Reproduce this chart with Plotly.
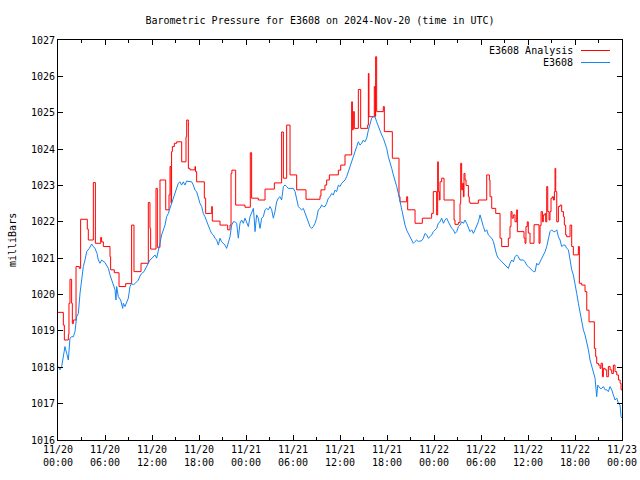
import pandas as pd
import plotly.graph_objects as go

START = pd.Timestamp("2024-11-20 00:00")

# Observed station pressure (E3608): hours after 11/20 00:00 UTC, millibars
BLUE_HOURS = [0.04, 0.26, 0.47, 0.68, 0.89, 1.11, 1.32, 1.53, 1.74, 1.96, 2.17, 2.38, 2.60, 2.81, 3.02, 3.23, 3.45, 3.66, 4.00, 4.30, 4.51, 4.72, 4.98, 5.15, 5.36, 5.57, 6.00, 6.21, 6.43, 6.64, 6.85, 7.00, 7.28, 7.40, 7.49, 7.70, 8.00, 8.26, 8.34, 8.55, 8.77, 8.98, 9.19, 9.40, 9.62, 10.00, 10.26, 10.47, 10.68, 10.98, 11.32, 11.53, 11.74, 12.00, 12.38,
              12.59, 12.81, 13.02, 13.23, 13.44, 13.66, 13.87, 14.08, 14.29, 14.51, 14.72, 14.93, 15.15, 15.36, 15.57, 15.78, 15.99, 16.21, 16.42, 16.85, 17.06, 17.27, 17.49, 17.70, 17.91, 18.12, 18.34, 18.55, 18.76, 18.98, 19.19, 19.40, 19.61, 19.83, 20.04, 20.25, 20.47, 20.68, 20.89, 21.10, 21.32, 21.53, 21.74, 21.96, 22.17, 22.38, 22.59, 22.81, 23.02, 23.23, 23.44, 23.66, 23.87, 24.08, 24.30, 24.51,
              24.72, 24.94, 25.06, 25.15, 25.36, 25.57, 25.79, 26.00, 26.21, 26.43, 26.64, 26.85, 27.06, 27.28, 27.49, 27.70, 27.91, 28.13, 28.34, 28.55, 28.77, 28.98, 29.19, 29.40, 29.62, 30.04, 30.26, 30.47, 30.68, 30.89, 31.11, 31.32, 31.53, 31.74, 31.96, 32.17, 32.38, 32.60, 32.81, 33.02, 33.23, 33.45, 33.66, 33.87, 34.09, 34.30, 34.51, 34.72, 34.94, 35.15, 35.36, 35.57, 35.79, 36.00, 36.21, 36.43, 36.64, 36.85, 37.06,
              37.28, 37.49, 37.70, 37.92, 38.13, 38.34, 38.55, 38.77, 38.98, 39.19, 39.41, 39.62, 39.83, 40.04, 40.26, 40.47, 40.68, 40.90, 41.11, 41.32, 41.53, 41.75, 41.96, 42.17, 42.39, 42.60, 42.81, 43.02, 43.24, 43.45, 43.66, 43.87, 44.09, 44.30, 44.51, 44.72, 44.94, 45.15, 45.36, 45.58, 45.79, 46.00, 46.21, 46.43, 46.64, 46.85, 47.07, 47.28, 47.49, 47.70, 47.92, 48.13, 48.34, 48.55, 48.77,
              48.98, 49.20, 49.41, 49.62, 49.83, 50.05, 50.26, 50.47, 50.68, 50.90, 51.11, 51.32, 51.54, 51.75, 51.96, 52.17, 52.39, 52.60, 52.81, 53.03, 53.24, 53.45, 53.66, 53.88, 54.09, 54.30, 54.51, 54.73, 54.94, 55.15, 55.37, 55.58, 55.79, 56.00, 56.22, 56.43, 56.64, 56.86, 57.07, 57.28, 57.49, 57.71, 57.92, 58.13, 58.34, 58.56, 58.77, 58.98, 59.20, 59.41, 59.62, 59.83, 60.05, 60.26, 60.47, 60.69,
              60.90, 61.11, 61.33, 61.54, 61.75, 61.96, 62.18, 62.39, 62.60, 62.81, 63.03, 63.24, 63.45, 63.67, 63.88, 64.09, 64.30, 64.52, 64.73, 64.94, 65.16, 65.37, 65.58, 65.79, 66.01, 66.22, 66.43, 66.64, 66.86, 67.07, 67.28, 67.50, 67.71, 67.92, 68.13, 68.35, 68.56, 68.77, 68.90, 69.20, 69.41, 69.62, 69.84, 70.05, 70.26, 70.47, 70.69, 70.90, 71.11, 71.33, 71.54, 71.75, 71.88, 72.00]
BLUE_MB = [1018.02, 1017.93, 1018.02, 1018.29, 1018.57, 1018.38, 1018.20, 1018.80, 1018.84, 1018.84, 1018.98, 1019.39, 1019.48, 1020.03, 1020.40, 1020.77, 1020.95, 1021.18, 1021.27, 1021.39, 1021.32, 1021.27, 1021.13, 1020.95, 1020.86, 1020.95, 1020.88, 1020.81, 1020.72, 1020.54, 1020.40, 1020.26, 1020.13, 1019.85, 1020.22, 1019.94, 1019.85, 1019.62, 1019.76, 1019.67, 1019.80, 1019.90, 1020.22, 1020.31, 1020.26, 1020.35, 1020.40, 1020.51, 1020.58, 1020.63, 1020.77, 1020.86, 1020.95, 1021.00, 1021.09,
           1021.00, 1021.18, 1021.41, 1021.64, 1021.78, 1021.91, 1022.14, 1022.23, 1022.37, 1022.51, 1022.65, 1022.83, 1022.97, 1023.06, 1023.10, 1023.01, 1023.10, 1023.01, 1023.12, 1023.12, 1023.10, 1023.01, 1022.87, 1022.83, 1022.65, 1022.51, 1022.42, 1022.23, 1022.14, 1022.00, 1021.91, 1021.78, 1021.68, 1021.64, 1021.55, 1021.50, 1021.36, 1021.55, 1021.45, 1021.41, 1021.36, 1021.27, 1021.41, 1021.59, 1021.91, 1022.00, 1022.00, 1021.96, 1021.55, 1021.96, 1022.05, 1021.96, 1022.10, 1022.00, 1021.87, 1022.14,
           1022.28, 1022.37, 1022.05, 1021.73, 1022.19, 1022.10, 1021.82, 1022.10, 1022.14, 1022.33, 1022.37, 1022.33, 1022.42, 1022.33, 1022.10, 1022.28, 1022.55, 1022.65, 1022.69, 1022.60, 1022.97, 1023.01, 1022.97, 1022.92, 1022.92, 1022.92, 1022.83, 1022.65, 1022.42, 1022.37, 1022.33, 1022.37, 1022.23, 1022.14, 1022.00, 1021.87, 1021.82, 1021.87, 1021.96, 1022.10, 1022.33, 1022.37, 1022.46, 1022.42, 1022.42, 1022.51, 1022.65, 1022.69, 1022.78, 1022.74, 1022.87, 1022.83, 1023.01, 1022.97, 1023.06, 1023.10, 1023.15, 1023.24, 1023.38,
           1023.50, 1023.70, 1023.84, 1023.97, 1024.07, 1024.20, 1024.11, 1024.16, 1024.25, 1024.20, 1024.30, 1024.52, 1024.66, 1024.85, 1024.89, 1024.89, 1024.75, 1024.62, 1024.48, 1024.39, 1024.30, 1024.16, 1024.02, 1023.79, 1023.65, 1023.47, 1023.29, 1023.15, 1022.97, 1022.78, 1022.55, 1022.33, 1022.14, 1021.91, 1021.77, 1021.68, 1021.55, 1021.46, 1021.41, 1021.46, 1021.50, 1021.46, 1021.46, 1021.48, 1021.55, 1021.68, 1021.64, 1021.55, 1021.59, 1021.64, 1021.73, 1021.77, 1021.82, 1021.96, 1022.00,
           1022.10, 1021.96, 1022.05, 1022.10, 1022.00, 1021.91, 1021.82, 1021.78, 1021.68, 1021.73, 1021.87, 1021.91, 1022.00, 1021.96, 1022.05, 1021.96, 1021.82, 1021.73, 1021.78, 1021.68, 1021.78, 1021.87, 1022.00, 1022.19, 1022.00, 1021.87, 1021.73, 1021.78, 1021.64, 1021.59, 1021.55, 1021.46, 1021.23, 1021.09, 1021.00, 1020.95, 1020.90, 1020.86, 1020.81, 1020.77, 1020.72, 1020.86, 1020.95, 1020.90, 1021.04, 1021.09, 1021.04, 1020.95, 1020.95, 1020.95, 1020.90, 1020.81, 1020.77, 1020.72, 1020.68, 1020.63,
           1020.63, 1020.86, 1020.81, 1020.90, 1020.95, 1021.04, 1021.18, 1021.32, 1021.55, 1021.73, 1021.78, 1021.73, 1021.73, 1021.78, 1021.59, 1021.50, 1021.32, 1021.36, 1021.36, 1021.27, 1021.23, 1020.95, 1020.68, 1020.54, 1020.22, 1020.03, 1019.76, 1019.48, 1019.21, 1019.03, 1018.89, 1018.71, 1018.48, 1018.20, 1018.02, 1017.83, 1017.70, 1017.19, 1017.51, 1017.42, 1017.42, 1017.47, 1017.38, 1017.38, 1017.33, 1017.47, 1017.38, 1017.24, 1017.10, 1017.15, 1017.01, 1016.96, 1016.64, 1016.60]

# Analysis pressure (E3608 Analysis): step start hours and values
RED_HOURS = [0.00, 0.68, 0.81, 1.32, 1.40, 1.53, 1.74, 1.83, 1.96, 2.30, 2.72, 2.89, 3.74, 3.87, 4.51, 4.77, 5.45, 5.57, 5.79, 6.64, 6.72, 7.19, 7.79, 8.64, 9.40, 9.70, 10.60, 11.53, 11.74, 11.83, 12.51, 12.68,
             13.02, 13.75, 14.17, 14.30, 14.43, 14.50, 14.60, 14.85, 15.15, 15.79, 16.34, 16.43, 16.64, 16.85, 17.49, 17.55, 17.70, 18.68, 18.85, 19.62, 19.70, 20.68, 21.66, 21.96, 22.09, 22.20, 22.68, 23.87, 24.55, 24.72,
             25.57, 26.43, 27.62, 28.55, 28.77, 29.19, 29.62, 30.47, 31.66, 33.45, 33.57, 34.08, 34.30, 34.64, 35.79, 36.09, 36.64,
             37.49, 37.58, 37.70, 37.83, 38.34, 38.64, 39.53, 39.62, 39.70, 40.38, 40.50, 40.55, 40.68, 41.53, 41.66, 42.68, 43.53, 43.66, 44.51, 44.64, 45.58, 46.51, 47.70, 47.91, 48.34, 48.47, 48.55, 48.68, 48.77, 48.98,
             49.28, 50.56, 50.68, 51.11, 51.32, 51.41, 51.53, 51.66, 51.75, 51.83, 51.96, 52.09, 52.39, 52.50, 52.60, 53.66, 54.73, 55.07, 55.15, 55.37, 55.88, 56.43, 56.64, 57.49, 57.70, 57.83, 57.96, 58.13, 58.34, 58.56, 58.64, 59.49, 59.62, 59.74, 59.91, 60.04, 60.26, 60.77, 61.41,
             61.54, 61.67, 61.84, 61.96, 62.18, 62.26, 62.39, 62.52, 62.69, 62.81, 62.94, 63.11, 63.24, 63.37, 63.45, 63.54, 63.67, 63.88, 64.09, 64.30, 64.52, 64.64, 64.81, 64.94, 65.37, 65.58, 65.79, 66.43, 66.56, 66.86, 67.28, 67.50, 67.79, 68.47, 68.64, 68.77, 68.99, 69.20, 69.33, 69.50, 69.62, 69.84, 70.05, 70.26, 70.48, 70.69, 70.90, 71.11, 71.33, 71.54, 71.76, 71.88, 72.00]
RED_MB = [1019.51, 1019.16, 1018.75, 1018.90, 1019.76, 1020.42, 1019.76, 1019.20, 1019.30, 1020.77, 1020.72, 1022.07, 1021.80, 1021.50, 1023.08, 1021.41, 1021.57, 1021.45, 1021.32, 1021.04, 1020.68, 1020.60, 1020.22, 1020.30, 1021.91, 1020.63, 1020.86, 1022.53, 1021.82, 1021.25, 1022.92, 1021.30,
          1023.15, 1022.33, 1022.74, 1023.52, 1022.51, 1023.93, 1024.07, 1024.16, 1024.20, 1023.65, 1024.34, 1024.80, 1023.47, 1023.43, 1023.52, 1023.38, 1023.10, 1022.65, 1022.23, 1022.42, 1022.02, 1021.91, 1021.78, 1021.91, 1023.33, 1023.42, 1022.46, 1022.40, 1023.90, 1022.65,
          1022.60, 1022.90, 1023.07, 1024.47, 1023.20, 1024.66, 1023.29, 1022.88, 1022.62, 1022.71, 1022.88, 1023.01, 1023.15, 1023.29, 1023.42, 1023.56, 1023.84,
          1025.30, 1024.53, 1025.03, 1024.57, 1025.64, 1024.57, 1024.66, 1026.08, 1024.89, 1025.72, 1024.90, 1026.54, 1025.03, 1025.17, 1024.48, 1023.75, 1022.69, 1022.55, 1022.69, 1022.33, 1021.96, 1022.10, 1022.23, 1022.83, 1022.19, 1023.65, 1022.83, 1022.60, 1023.10, 1023.20,
          1022.60, 1022.05, 1021.93, 1021.98, 1022.50, 1023.61, 1022.88, 1023.06, 1022.69, 1023.33, 1023.15, 1023.00, 1022.69, 1022.55, 1022.51, 1022.60, 1023.29, 1023.15, 1022.69, 1022.37, 1022.23, 1021.55, 1021.32, 1021.55, 1021.87, 1022.28, 1022.10, 1022.19, 1022.00, 1022.33, 1021.73, 1021.55, 1021.41, 1021.87, 1022.00, 1021.69, 1021.41, 1021.92, 1021.41,
          1021.90, 1022.28, 1022.00, 1022.19, 1022.23, 1022.00, 1022.97, 1022.28, 1022.05, 1022.28, 1022.65, 1022.69, 1022.60, 1022.83, 1023.47, 1022.83, 1022.00, 1022.42, 1022.46, 1022.28, 1022.14, 1021.91, 1021.64, 1021.59, 1021.91, 1021.32, 1021.09, 1021.32, 1020.31, 1020.26, 1020.08, 1019.57, 1019.25, 1018.52, 1018.29, 1018.11, 1018.06, 1017.97, 1018.11, 1017.74, 1017.97, 1017.93, 1017.74, 1018.02, 1017.93, 1017.83, 1018.06, 1017.88, 1017.79, 1017.65, 1017.56, 1017.38, 1017.38]

TICK_HOURS = [0, 6, 12, 18, 24, 30, 36, 42, 48, 54, 60, 66, 72]
TICK_LABELS = ["11/20<br>00:00", "11/20<br>06:00", "11/20<br>12:00", "11/20<br>18:00",
               "11/21<br>00:00", "11/21<br>06:00", "11/21<br>12:00", "11/21<br>18:00",
               "11/22<br>00:00", "11/22<br>06:00", "11/22<br>12:00", "11/22<br>18:00",
               "11/23<br>00:00"]
Y_TICKS = list(range(1016, 1028))

SERIES_NAMES = ["E3608 Analysis", "E3608"]
RED = "#ff0000"
BLUE = "#1585f0"
FONT = "DejaVu Sans Mono"

FIG_W, FIG_H = 640, 480
PL, PR, PT, PB = 58, 622, 40, 440   # plot box in pixels
PW, PH = PR - PL, PB - PT


def to_time(hours):
    return START + pd.to_timedelta(pd.Series(hours), unit="h")


fig = go.Figure()
fig.add_trace(go.Scatter(x=to_time(RED_HOURS), y=RED_MB, mode="lines",
                         line=dict(color=RED, width=1, shape="hv"),
                         name=SERIES_NAMES[0], showlegend=False))
fig.add_trace(go.Scatter(x=to_time(BLUE_HOURS), y=BLUE_MB, mode="lines",
                         line=dict(color=BLUE, width=1),
                         name=SERIES_NAMES[1], showlegend=False))

# gnuplot-style key: right-aligned text with line sample on the right
for i, (name, col) in enumerate(zip(SERIES_NAMES, [RED, BLUE])):
    ypx = 50.5 + 12 * i
    yp = 1 - (ypx - PT) / PH
    fig.add_annotation(x=(575 - PL) / PW, y=yp, xref="paper", yref="paper",
                       text=name, showarrow=False, xanchor="right", yanchor="middle",
                       font=dict(family=FONT, size=10, color="black"))
    fig.add_shape(type="line", xref="paper", yref="paper",
                  x0=(581 - PL) / PW, x1=(610 - PL) / PW, y0=yp, y1=yp,
                  line=dict(color=col, width=1))

fig.add_annotation(x=(12 - PL) / PW, y=0.5, xref="paper", yref="paper",
                   text="milliBars", textangle=-90, showarrow=False,
                   xanchor="center", yanchor="middle",
                   font=dict(family=FONT, size=10, color="black"))

fig.update_layout(
    width=FIG_W, height=FIG_H,
    margin=dict(l=PL, r=FIG_W - PR, t=PT, b=FIG_H - PB, pad=0, autoexpand=False),
    paper_bgcolor="white", plot_bgcolor="white",
    font=dict(family=FONT, size=10, color="black"),
    hovermode=False,
    title=dict(text="Barometric Pressure for E3608 on 2024-Nov-20 (time in UTC)",
               x=0.5, xanchor="center", y=1 - 20 / FIG_H, yanchor="middle",
               font=dict(family=FONT, size=10, color="black")),
)
fig.update_xaxes(
    range=[START, START + pd.Timedelta(hours=72)],
    tickvals=list(to_time(TICK_HOURS)), ticktext=TICK_LABELS,
    ticks="inside", ticklen=5, tickcolor="black", tickwidth=1,
    minor=dict(ticks="inside", ticklen=3, dtick=3 * 3600 * 1000, tickcolor="black"),
    showline=True, linecolor="black", linewidth=1, mirror="allticks",
    showgrid=False, zeroline=False, automargin=False, ticklabeloverflow="allow",
)
fig.update_yaxes(
    range=[1016, 1027], tickvals=Y_TICKS, ticktext=[str(v) for v in Y_TICKS],
    ticks="inside", ticklen=5, tickcolor="black", tickwidth=1,
    showline=True, linecolor="black", linewidth=1, mirror="allticks",
    showgrid=False, zeroline=False, automargin=False, ticklabeloverflow="allow",
)

# place the 640x480 figure flush with the window (no body margin, no scrollbars)
PAGE_JS = ("document.body.style.margin='0';"
           "document.body.style.overflow='hidden';"
           "document.documentElement.style.overflow='hidden';")

fig.write_html("out.html", post_script=PAGE_JS,
               config={"displayModeBar": False, "staticPlot": True})
